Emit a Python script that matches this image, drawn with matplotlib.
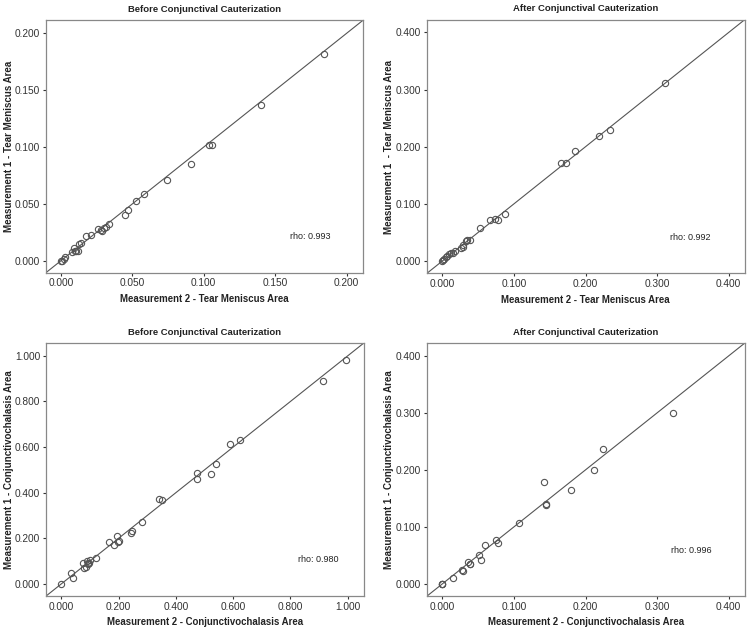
import matplotlib
matplotlib.use('Agg')
import matplotlib.pyplot as plt

plt.rcParams['font.family'] = ['Liberation Sans', 'DejaVu Sans']

# Tear meniscus area, before cauterization
tm_before_m2 = [0.000, 0.001, 0.002, 0.003, 0.008, 0.009, 0.010, 0.011, 0.012, 0.013,
                0.014, 0.018, 0.021, 0.026, 0.028, 0.029, 0.030, 0.032, 0.034, 0.045,
                0.047, 0.053, 0.058, 0.074, 0.091, 0.104, 0.106, 0.140, 0.184]
tm_before_m1 = [0.000, 0.000, 0.002, 0.003, 0.008, 0.011, 0.009, 0.009, 0.009, 0.015,
                0.016, 0.022, 0.023, 0.028, 0.027, 0.026, 0.029, 0.030, 0.032, 0.040,
                0.045, 0.053, 0.059, 0.071, 0.085, 0.102, 0.102, 0.137, 0.182]

# Tear meniscus area, after cauterization
tm_after_m2 = [0.000, 0.001, 0.002, 0.005, 0.007, 0.009, 0.012, 0.014, 0.018, 0.026,
               0.028, 0.029, 0.033, 0.034, 0.039, 0.053, 0.067, 0.074, 0.078, 0.087,
               0.165, 0.173, 0.185, 0.219, 0.234, 0.311]
tm_after_m1 = [0.000, 0.001, 0.003, 0.006, 0.008, 0.012, 0.013, 0.014, 0.018, 0.023,
               0.025, 0.028, 0.035, 0.037, 0.037, 0.058, 0.071, 0.074, 0.072, 0.082,
               0.171, 0.171, 0.192, 0.218, 0.230, 0.312]

# Conjunctivochalasis area, before cauterization
cc_before_m2 = [0.000, 0.032, 0.040, 0.075, 0.078, 0.085, 0.088, 0.092, 0.093, 0.095,
                0.098, 0.122, 0.165, 0.183, 0.195, 0.198, 0.201, 0.242, 0.248, 0.281,
                0.340, 0.350, 0.472, 0.472, 0.521, 0.540, 0.588, 0.622, 0.912, 0.995]
cc_before_m1 = [0.000, 0.045, 0.027, 0.093, 0.068, 0.072, 0.100, 0.090, 0.088, 0.090,
                0.103, 0.113, 0.183, 0.168, 0.209, 0.185, 0.187, 0.221, 0.232, 0.270,
                0.370, 0.366, 0.484, 0.460, 0.482, 0.524, 0.614, 0.632, 0.890, 0.980]

# Conjunctivochalasis area, after cauterization
cc_after_m2 = [0.000, 0.000, 0.000, 0.014, 0.027, 0.029, 0.035, 0.038, 0.039, 0.051,
               0.054, 0.060, 0.075, 0.077, 0.107, 0.142, 0.144, 0.145, 0.179, 0.212,
               0.225, 0.322]
cc_after_m1 = [0.000, 0.000, 0.000, 0.010, 0.025, 0.023, 0.039, 0.035, 0.034, 0.050,
               0.041, 0.068, 0.077, 0.072, 0.106, 0.179, 0.140, 0.139, 0.164, 0.200,
               0.236, 0.300]

titles = ['Before Conjunctival Cauterization', 'After Conjunctival Cauterization',
          'Before Conjunctival Cauterization', 'After Conjunctival Cauterization']
xlabels = ['Measurement 2 - Tear Meniscus Area', 'Measurement 2 - Tear Meniscus Area',
           'Measurement 2 - Conjunctivochalasis Area', 'Measurement 2 - Conjunctivochalasis Area']
ylabels = ['Measurement 1 - Tear Meniscus Area', 'Measurement 1  - Tear Meniscus Area',
           'Measurement 1 - Conjunctivochalasis Area', 'Measurement 1 - Conjunctivochalasis Area']
rho_text = ['rho: 0.993', 'rho: 0.992', 'rho: 0.980', 'rho: 0.996']
tick_sets = [[0, 0.05, 0.1, 0.15, 0.2],
             [0, 0.1, 0.2, 0.3, 0.4],
             [0, 0.2, 0.4, 0.6, 0.8, 1.0],
             [0, 0.1, 0.2, 0.3, 0.4]]
limits = [(-0.0105, 0.2115), (-0.022, 0.4225), (-0.055, 1.056), (-0.022, 0.4225)]
series = [(tm_before_m2, tm_before_m1), (tm_after_m2, tm_after_m1),
          (cc_before_m2, cc_before_m1), (cc_after_m2, cc_after_m1)]

# axes boxes in figure fractions [left, bottom, width, height]
boxes = [[0.061, 0.569, 0.423, 0.399],
         [0.569, 0.568, 0.424, 0.401],
         [0.061, 0.058, 0.424, 0.400],
         [0.569, 0.058, 0.424, 0.400]]
rho_pos = [(0.833, 0.142), (0.830, 0.142), (0.856, 0.145), (0.833, 0.179)]
ylabel_x = [-0.100, -0.104, -0.100, -0.104]

fig = plt.figure(figsize=(7.5, 6.33), dpi=100)

for i in range(4):
    ax = fig.add_axes(boxes[i])
    lo, hi = limits[i]
    ax.plot([lo, hi], [lo, hi], color='#555555', lw=0.8, zorder=1)
    x, y = series[i]
    ax.plot(x, y, 'o', ms=4.5, mfc='none', mec='#555555', mew=0.8, zorder=2)
    ax.set_xlim(lo, hi)
    ax.set_ylim(lo, hi)
    ax.set_xticks(tick_sets[i])
    ax.set_yticks(tick_sets[i])
    ax.xaxis.set_major_formatter(matplotlib.ticker.FormatStrFormatter('%.3f'))
    ax.yaxis.set_major_formatter(matplotlib.ticker.FormatStrFormatter('%.3f'))
    ax.tick_params(labelsize=7.3, colors='#333333', length=2.5, width=0.8, pad=1.5)
    for s in ax.spines.values():
        s.set_color('#888888')
        s.set_linewidth(0.9)
    ax.set_title(titles[i], fontsize=6.8, fontweight='bold', color='#222222', pad=6)
    ax.set_xlabel(xlabels[i], fontsize=6.9, fontweight='bold', color='#222222', labelpad=4)
    ax.set_ylabel(ylabels[i], fontsize=7.0, fontweight='bold', color='#222222')
    ax.yaxis.set_label_coords(ylabel_x[i], 0.5)
    ax.text(rho_pos[i][0], rho_pos[i][1], rho_text[i], transform=ax.transAxes,
            fontsize=6.5, color='#222222', ha='center', va='center')

fig.savefig('out.png', dpi=100, facecolor='white')
